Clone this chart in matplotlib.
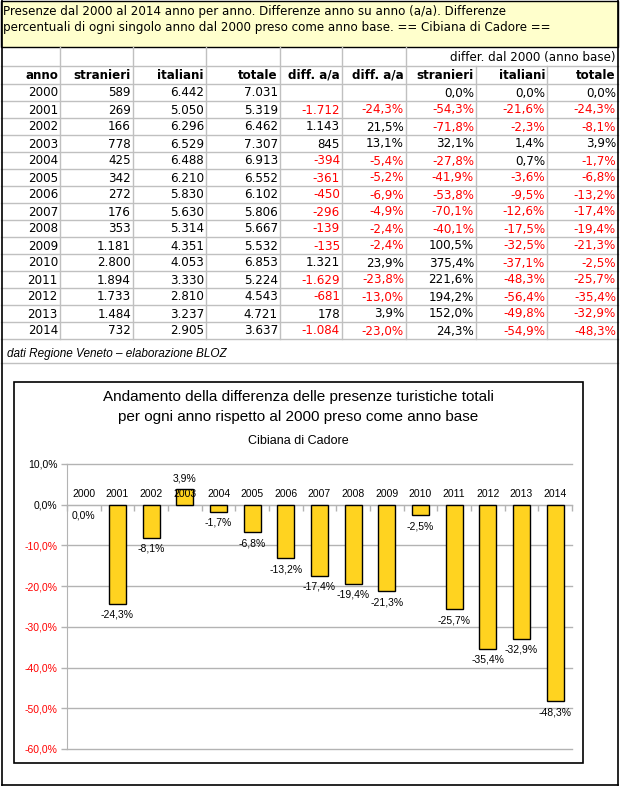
import numpy as np
import matplotlib
matplotlib.use("Agg")
import matplotlib.pyplot as plt
from matplotlib.patches import Rectangle

# dati Regione Veneto - Cibiana di Cadore
anni = [2000, 2001, 2002, 2003, 2004, 2005, 2006, 2007, 2008, 2009, 2010, 2011, 2012, 2013, 2014]
stranieri = [589, 269, 166, 778, 425, 342, 272, 176, 353, 1181, 2800, 1894, 1733, 1484, 732]
italiani = [6442, 5050, 6296, 6529, 6488, 6210, 5830, 5630, 5314, 4351, 4053, 3330, 2810, 3237, 2905]
totale = [7031, 5319, 6462, 7307, 6913, 6552, 6102, 5806, 5667, 5532, 6853, 5224, 4543, 4721, 3637]
diff_aa = [None, -1712, 1143, 845, -394, -361, -450, -296, -139, -135, 1321, -1629, -681, 178, -1084]
diff_aa_pct = [None, -24.3, 21.5, 13.1, -5.4, -5.2, -6.9, -4.9, -2.4, -2.4, 23.9, -23.8, -13.0, 3.9, -23.0]
str_pct = [0.0, -54.3, -71.8, 32.1, -27.8, -41.9, -53.8, -70.1, -40.1, 100.5, 375.4, 221.6, 194.2, 152.0, 24.3]
ita_pct = [0.0, -21.6, -2.3, 1.4, 0.7, -3.6, -9.5, -12.6, -17.5, -32.5, -37.1, -48.3, -56.4, -49.8, -54.9]
tot_pct = [0.0, -24.3, -8.1, 3.9, -1.7, -6.8, -13.2, -17.4, -19.4, -21.3, -2.5, -25.7, -35.4, -32.9, -48.3]

intestazioni = ["anno", "stranieri", "italiani", "totale", "diff. a/a", "diff. a/a",
                "stranieri", "italiani", "totale"]
titolo_tab = ["Presenze dal 2000 al 2014 anno per anno. Differenze anno su anno (a/a). Differenze",
              "percentuali di ogni singolo anno dal 2000 preso come anno base. == Cibiana di Cadore =="]
titolo_graf = ["Andamento della differenza delle presenze turistiche totali",
               "per ogni anno rispetto al 2000 preso come anno base"]
sottotitolo = "Cibiana di Cadore"
nota = "dati Regione Veneto \u2013 elaborazione BLOZ"

W, H = 620, 787
GRID = "#c0c0c0"
RED = "#ff0000"
TFONT = "DejaVu Sans"
CFONT = "Liberation Sans"


def fmt_int(v):
    if v is None:
        return ""
    return "{:,}".format(v).replace(",", ".")


def fmt_pct(v):
    if v is None:
        return ""
    return "{:.1f}%".format(v).replace(".", ",")


fig = plt.figure(figsize=(W / 100, H / 100), dpi=100)
bg = fig.add_axes([0, 0, 1, 1])
bg.set_xlim(0, W)
bg.set_ylim(H, 0)
bg.axis("off")

# header box
bg.add_patch(Rectangle((1, 0.5), 617, 46.5, facecolor="#ffffcc", edgecolor="black", lw=1))
for k, riga in enumerate(titolo_tab):
    bg.text(3, 11.5 + 16.5 * k, riga, family=TFONT, fontsize=8.6, va="center", ha="left")

# table grid
col_edges = [60, 133, 206, 280, 342, 406, 476, 547, 618]
row_top = 84
row_h = 17
n = len(anni)
hlines = [66, row_top] + [row_top + row_h * (i + 1) for i in range(n)] + [363]
for y in hlines:
    bg.plot([1, 618], [y, y], color=GRID, lw=1)
for j, x in enumerate(col_edges[:-1]):
    y0 = 66 if j >= 6 else 47
    bg.plot([x, x], [y0, row_top + row_h * n], color=GRID, lw=1)

bg.text(615, 57, "differ. dal 2000 (anno base)", family=TFONT, fontsize=8.6,
        ha="right", va="center")
for j, h in enumerate(intestazioni):
    bg.text(col_edges[j] - 2, 75.5, h, family=TFONT, fontsize=8.6, weight="bold",
            ha="right", va="center")

colonne = [
    (anni, str, False),
    (stranieri, fmt_int, False),
    (italiani, fmt_int, False),
    (totale, fmt_int, False),
    (diff_aa, fmt_int, True),
    (diff_aa_pct, fmt_pct, True),
    (str_pct, fmt_pct, True),
    (ita_pct, fmt_pct, True),
    (tot_pct, fmt_pct, True),
]
for i in range(n):
    yc = row_top + row_h * i + row_h / 2 + 0.5
    for j, (vals, f, colora) in enumerate(colonne):
        v = vals[i]
        c = RED if (colora and v is not None and v < 0) else "black"
        bg.text(col_edges[j] - 2, yc, f(v), family=TFONT, fontsize=8.6, color=c,
                ha="right", va="center")

bg.text(7, 354, nota, family=CFONT, fontsize=8.5, style="italic", ha="left", va="center")

# outer frame and chart box
bg.plot([1.5, 1.5], [0, 785], color="black", lw=1.2)
bg.plot([618, 618], [0, 785], color="black", lw=1.2)
bg.plot([1.5, 618], [785, 785], color="black", lw=1.2)
bg.add_patch(Rectangle((13.5, 382), 569.5, 381, facecolor="white", edgecolor="black", lw=1.2))

bg.text(298, 397, titolo_graf[0], family=CFONT, fontsize=11, ha="center", va="center")
bg.text(298, 416.5, titolo_graf[1], family=CFONT, fontsize=11, ha="center", va="center")
bg.text(298, 441.5, sottotitolo, family=CFONT, fontsize=9, ha="center", va="center")

# chart
px_l, px_r, px_t, px_b = 67, 572, 464, 749
ax = fig.add_axes([px_l / W, (H - px_b) / H, (px_r - px_l) / W, (px_b - px_t) / H])
ax.set_facecolor("none")
x = np.arange(n)
bordi = [0 if v == 0 else 1 for v in tot_pct]
ax.bar(x, tot_pct, width=0.5, color="#ffd320", edgecolor="black", lw=bordi, zorder=3)
ax.set_xlim(-0.5, n - 0.5)
ax.set_ylim(-60, 10)

yt = list(range(-60, 11, 10))
ax.set_yticks(yt)
ax.set_yticklabels([fmt_pct(float(t)) for t in yt], family=CFONT, fontsize=7.5)
for lab, t in zip(ax.get_yticklabels(), yt):
    lab.set_color(RED if t < 0 else "black")
ax.yaxis.grid(True, color="#b3b3b3", lw=1, zorder=0)
for gl in ax.get_ygridlines():
    gl.set_clip_on(False)
ax.tick_params(axis="y", direction="out", length=4, width=1, color="#b3b3b3", pad=3)

ax.spines["top"].set_visible(False)
ax.spines["right"].set_visible(False)
ax.spines["left"].set_color("#b3b3b3")
ax.spines["bottom"].set_position(("data", 0))
ax.spines["bottom"].set_color("#b3b3b3")
ax.set_xticks(np.arange(-0.5, n, 1))
ax.set_xticklabels([])
ax.tick_params(axis="x", direction="out", length=4, width=1, color="#b3b3b3")

for i, (a, v) in enumerate(zip(anni, tot_pct)):
    ax.annotate(str(a), (i, 0), xytext=(0, 7.5), textcoords="offset points",
                ha="center", va="center", family=CFONT, fontsize=7.5)
    off = 7.5 if v > 0 else -8
    ax.annotate(fmt_pct(v), (i, v), xytext=(0, off), textcoords="offset points",
                ha="center", va="center", family=CFONT, fontsize=7.5)

fig.savefig("out.png", dpi=100)
